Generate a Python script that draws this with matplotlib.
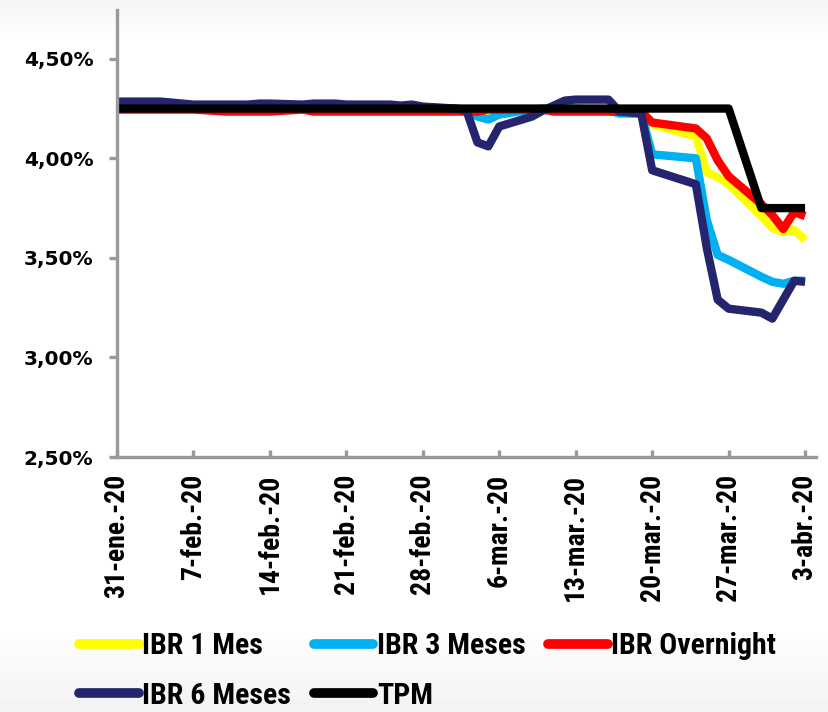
"""
IBR rates vs. TPM, Jan-Apr 2020.
"""

import os

import matplotlib
matplotlib.use("Agg")
import matplotlib.pyplot as plt
import numpy as np
import pandas as pd
from matplotlib import font_manager
from matplotlib.font_manager import FontProperties
from matplotlib.lines import Line2D


dates = (
    ["2020-01-31"]
    + ["2020-02-03", "2020-02-04", "2020-02-05", "2020-02-06", "2020-02-07"]
    + ["2020-02-10", "2020-02-11", "2020-02-12", "2020-02-13", "2020-02-14"]
    + ["2020-02-17", "2020-02-18", "2020-02-19", "2020-02-20", "2020-02-21"]
    + ["2020-02-24", "2020-02-25", "2020-02-26", "2020-02-27", "2020-02-28"]
    + ["2020-03-02", "2020-03-03", "2020-03-04", "2020-03-05", "2020-03-06"]
    + ["2020-03-09", "2020-03-10", "2020-03-11", "2020-03-12", "2020-03-13"]
    + ["2020-03-16", "2020-03-17", "2020-03-18", "2020-03-19", "2020-03-20"]
    + ["2020-03-24", "2020-03-25", "2020-03-26", "2020-03-27"]
    + ["2020-03-30", "2020-03-31", "2020-04-01", "2020-04-02", "2020-04-03"]
)

ibr_1m = (
    [4.250]
    + [4.250, 4.250, 4.250, 4.250, 4.250]
    + [4.250, 4.250, 4.250, 4.250, 4.250]
    + [4.250, 4.250, 4.250, 4.250, 4.250]
    + [4.250, 4.250, 4.250, 4.250, 4.250]
    + [4.250, 4.245, 4.240, 4.225, 4.240]
    + [4.245, 4.250, 4.250, 4.250, 4.250]
    + [4.245, 4.240, 4.240, 4.240, 4.170]
    + [4.110, 3.930, 3.905, 3.870]
    + [3.710, 3.650, 3.630, 3.640, 3.590]
)

ibr_3m = (
    [4.255]
    + [4.255, 4.255, 4.255, 4.255, 4.255]
    + [4.255, 4.255, 4.255, 4.255, 4.255]
    + [4.255, 4.255, 4.255, 4.255, 4.255]
    + [4.255, 4.255, 4.255, 4.255, 4.255]
    + [4.250, 4.245, 4.210, 4.195, 4.220]
    + [4.245, 4.250, 4.250, 4.250, 4.250]
    + [4.240, 4.225, 4.225, 4.225, 4.020]
    + [4.000, 3.690, 3.515, 3.490]
    + [3.405, 3.380, 3.370, 3.385, 3.385]
)

ibr_on = (
    [4.245]
    + [4.245, 4.245, 4.245, 4.245, 4.245]
    + [4.235, 4.235, 4.235, 4.235, 4.235]
    + [4.245, 4.235, 4.235, 4.235, 4.235]
    + [4.235, 4.235, 4.235, 4.235, 4.235]
    + [4.235, 4.235, 4.235, 4.245, 4.245]
    + [4.245, 4.245, 4.235, 4.235, 4.235]
    + [4.235, 4.235, 4.235, 4.235, 4.180]
    + [4.150, 4.100, 3.990, 3.910]
    + [3.770, 3.715, 3.645, 3.730, 3.710]
)

ibr_6m = (
    [4.285]
    + [4.285, 4.285, 4.280, 4.275, 4.270]
    + [4.270, 4.270, 4.270, 4.275, 4.275]
    + [4.270, 4.275, 4.275, 4.275, 4.270]
    + [4.270, 4.270, 4.265, 4.270, 4.260]
    + [4.250, 4.240, 4.080, 4.060, 4.160]
    + [4.210, 4.240, 4.265, 4.290, 4.295]
    + [4.295, 4.235, 4.230, 4.225, 3.940]
    + [3.870, 3.550, 3.290, 3.245]
    + [3.225, 3.195, 3.290, 3.385, 3.380]
)

tpm = (
    [4.25]
    + [4.25] * 5
    + [4.25] * 5
    + [4.25] * 5
    + [4.25] * 5
    + [4.25] * 5
    + [4.25] * 5
    + [4.25] * 5
    + [4.25, 4.25, 4.25, 4.25]
    + [3.75, 3.75, 3.75, 3.75, 3.75]
)

series_names = ["IBR 1 Mes", "IBR 3 Meses", "IBR Overnight", "IBR 6 Meses", "TPM"]
series_colors = ["#FFFF00", "#00B0F0", "#FF0000", "#25256F", "#000000"]

tick_dates = ["2020-01-31", "2020-02-07", "2020-02-14", "2020-02-21", "2020-02-28",
              "2020-03-06", "2020-03-13", "2020-03-20", "2020-03-27", "2020-04-03"]
tick_labels = ["31-ene.-20", "7-feb.-20", "14-feb.-20", "21-feb.-20", "28-feb.-20",
               "6-mar.-20", "13-mar.-20", "20-mar.-20", "27-mar.-20", "3-abr.-20"]
y_ticks = [2.5, 3.0, 3.5, 4.0, 4.5]
y_labels = ["2,50%", "3,00%", "3,50%", "4,00%", "4,50%"]


def narrow_bold():
    """Return (FontProperties, is_narrow) for a condensed bold sans if one is installed."""
    wanted = ["LiberationSansNarrow-Bold.", "NotoSans-CondensedBold.", "RobotoCondensed-Bold.",
              "OpenSans_Condensed-Bold.", "OpenSansCondensed-Bold.", "OpenSans-CondensedBold.",
              "DejaVuSansCondensed-Bold."]
    files = [f.fname for f in font_manager.fontManager.ttflist]
    for key in wanted:
        for path in files:
            if os.path.basename(path).startswith(key):
                return FontProperties(fname=path), True
    return FontProperties(family="Liberation Sans", weight="bold"), False


NARROW, IS_NARROW = narrow_bold()
AXIS_GRAY = "#9A9A9A"

fig = plt.figure(figsize=(8.29, 7.12), dpi=100)

# faint slide background, greyer at the top edge and under the legend
bg = fig.add_axes([0, 0, 1, 1], zorder=-5)
ramp = np.ones(712)
ramp[:40] = np.linspace(0.96, 1.0, 40)
ramp[625:] = np.linspace(1.0, 0.95, 712 - 625)
bg.imshow(ramp[:, None], cmap="gray", vmin=0, vmax=1, aspect="auto", extent=(0, 1, 0, 1))
bg.axis("off")

ax = fig.add_axes([117 / 829, 1 - 457 / 712, 699 / 829, 447 / 712])
ax.set_facecolor("none")

x = pd.to_datetime(dates)
for vals, name, color in zip([ibr_1m, ibr_3m, ibr_on, ibr_6m, tpm], series_names, series_colors):
    ax.plot(x, vals, color=color, linewidth=6, solid_joinstyle="round",
            solid_capstyle="butt", label=name)

start = pd.Timestamp("2020-01-31")
ax.set_xlim(start, start + pd.Timedelta(days=64))
ax.set_ylim(2.5, 4.745)

xfont = NARROW.copy()
xfont.set_size(20 if IS_NARROW else 16.5)
ax.set_xticks(pd.to_datetime(tick_dates))
ax.set_xticklabels(tick_labels, rotation=90, ha="center", va="top", fontproperties=xfont)
ax.set_yticks(y_ticks)
ax.set_yticklabels(y_labels, fontfamily="DejaVu Sans", fontweight="bold", fontsize=14.5)

for side in ["top", "right"]:
    ax.spines[side].set_visible(False)
for side in ["left", "bottom"]:
    ax.spines[side].set_color(AXIS_GRAY)
    ax.spines[side].set_linewidth(2.4)
ax.tick_params(axis="y", direction="out", length=6, width=2.4, color=AXIS_GRAY, pad=11)
ax.tick_params(axis="x", direction="in", length=5, width=2.4, color=AXIS_GRAY, pad=12)

# legend: two rows, three columns (column-major order)
lfont = NARROW.copy()
lfont.set_size(21.5 if IS_NARROW else 18)
handles = {name: Line2D([], [], color=c, linewidth=7, solid_capstyle="round")
           for name, c in zip(series_names, series_colors)}
order = ["IBR 1 Mes", "IBR 6 Meses", "IBR 3 Meses", "TPM", "IBR Overnight"]
fig.legend([handles[n] for n in order], order, ncol=3, loc="upper left",
           bbox_to_anchor=(79 / 829, 1 - 632 / 712), frameon=False,
           borderpad=0, borderaxespad=0,
           handlelength=2.0 if IS_NARROW else 2.4,
           handletextpad=0.12 if IS_NARROW else 0.15,
           columnspacing=0.75 if IS_NARROW else 0.9,
           labelspacing=0.72 if IS_NARROW else 1.1,
           prop=lfont)

fig.savefig("out.png", dpi=100)
